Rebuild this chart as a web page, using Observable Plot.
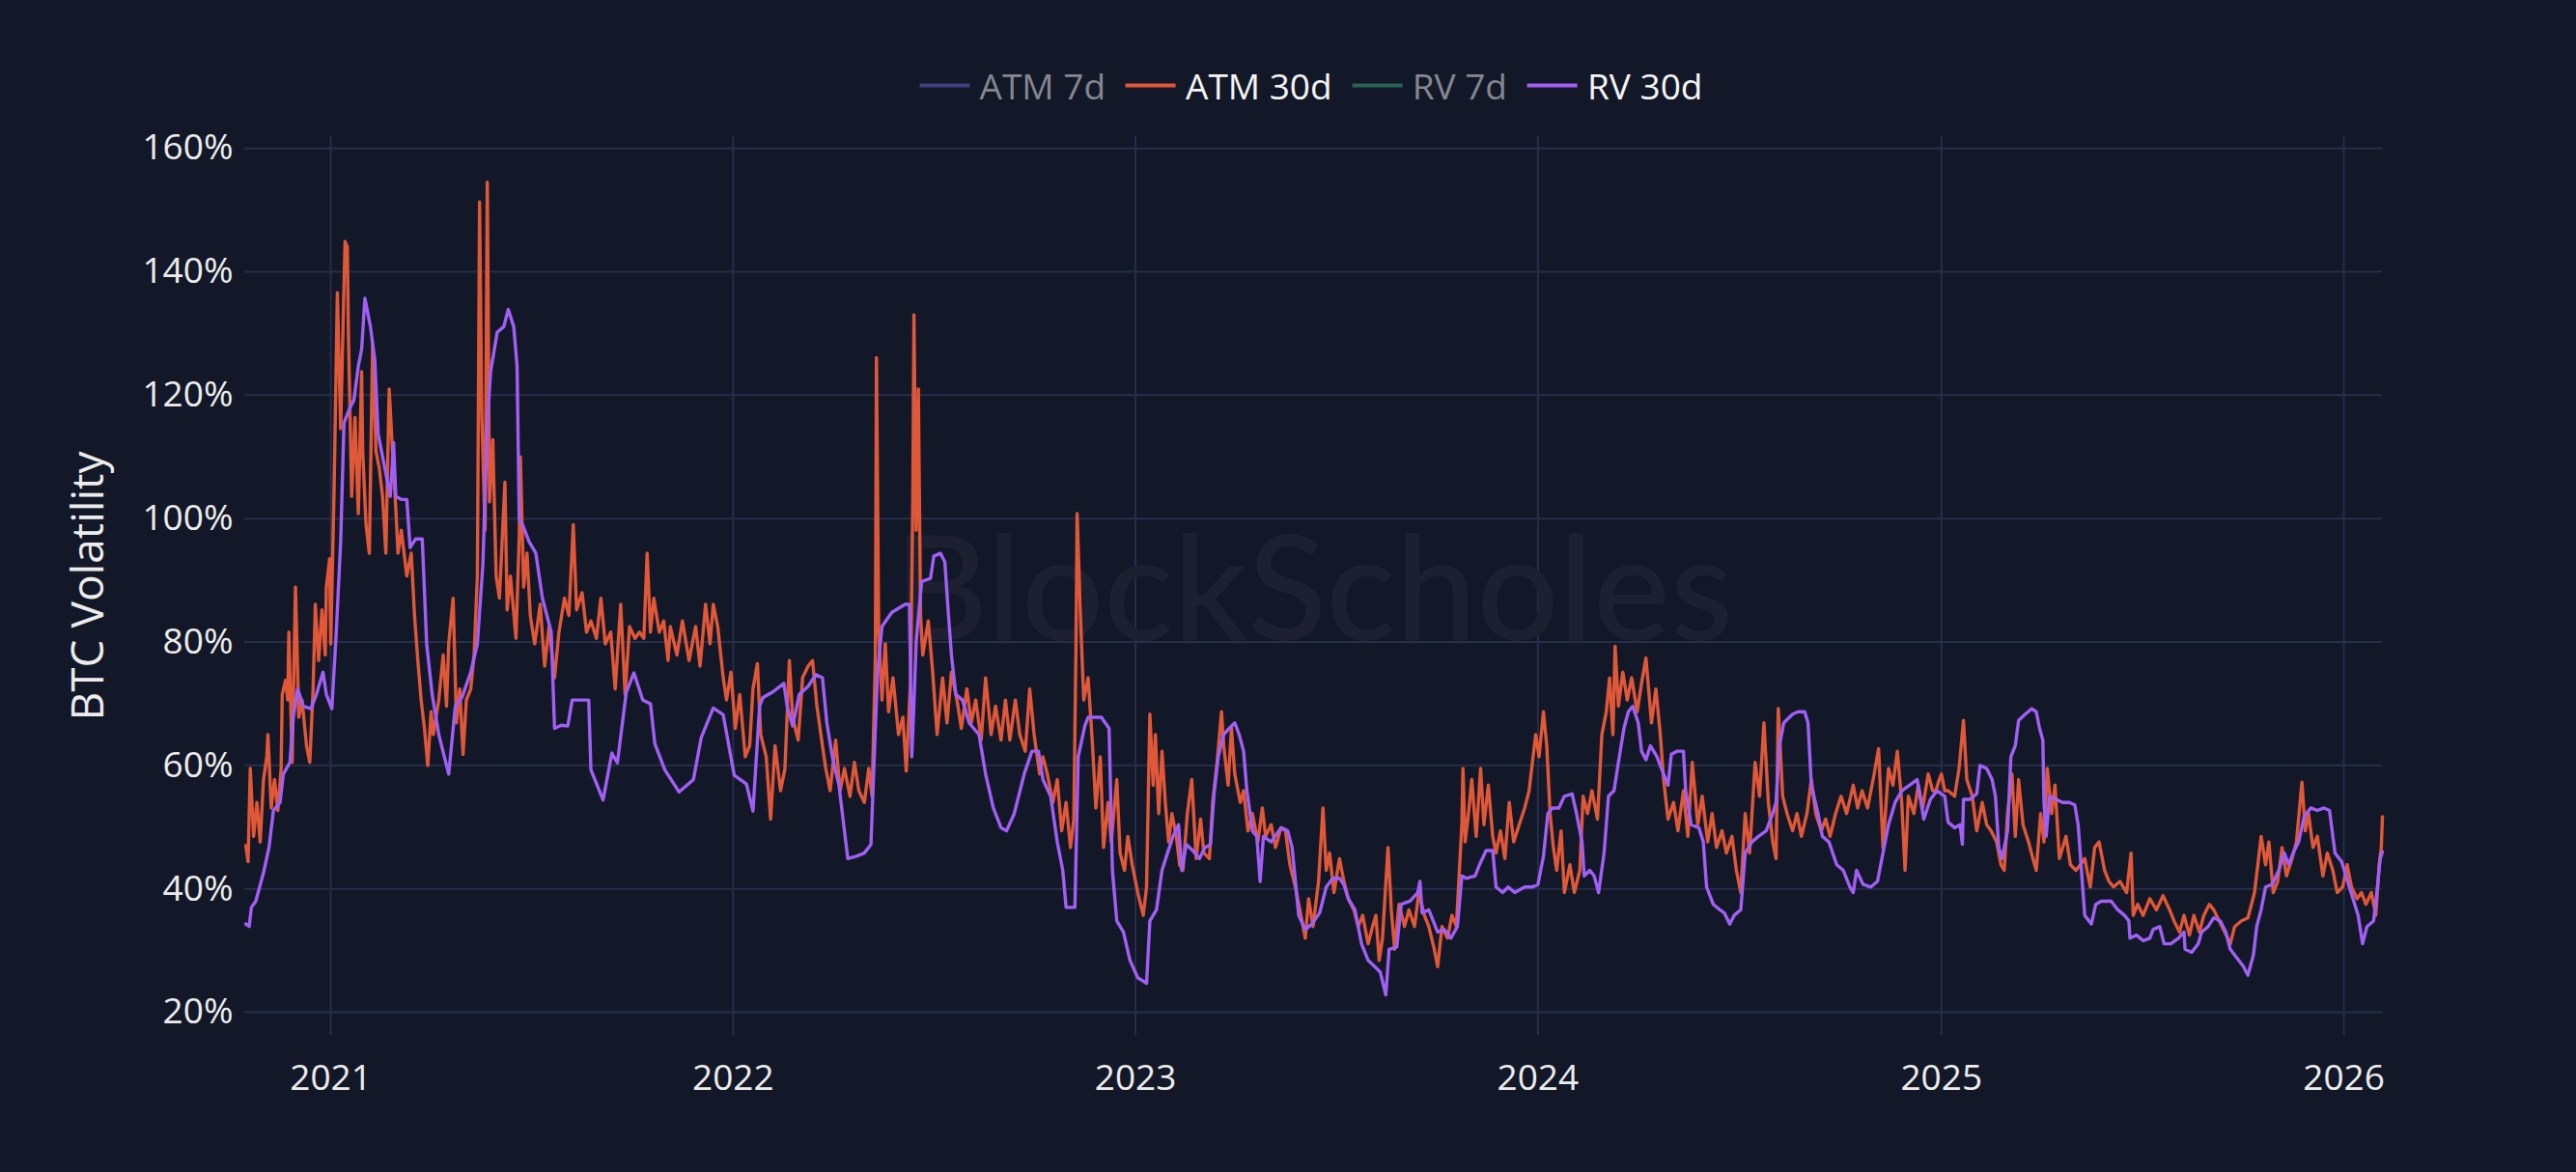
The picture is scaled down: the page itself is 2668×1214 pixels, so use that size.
<!DOCTYPE html>
<html>
<head>
<meta charset="utf-8">
<script src="https://cdn.jsdelivr.net/npm/d3@7"></script>
<script src="https://cdn.jsdelivr.net/npm/@observablehq/plot@0.6"></script>
<style>
  html, body { margin: 0; padding: 0; background: #131828; }
  #legend { position: relative; height: 110px; width: 2668px; }
  #legend .items { position: absolute; left: 1358px; top: 88px; transform: translate(-50%, -50%);
    display: flex; align-items: center; font-family: "Open Sans", sans-serif; font-size: 37px; white-space: nowrap; }
  #legend .item { display: flex; align-items: center; margin-right: 21px; }
  #legend .item:last-child { margin-right: 0; }
  #legend .swatch { width: 52px; height: 4px; margin-right: 10px; }
</style>
</head>
<body>
<div id="legend"><div class="items"></div></div>
<div id="chart"></div>
<script>
// ---- series definitions (legend) ----
const seriesNames   = ["ATM 7d", "ATM 30d", "RV 7d", "RV 30d"];
const seriesColors  = ["#3e4080", "#e05838", "#286452", "#a05ff5"];
const seriesVisible = [false, true, false, true];

// ---- axis ticks ----
const yearTicks = ["2021", "2022", "2023", "2024", "2025", "2026"];
const volTicks  = [20, 40, 60, 80, 100, 120, 140, 160];

// ---- ATM 30d implied volatility (%) ----
const atm30d = [
["2020-10-16",47.0],["2020-10-18",44.4],["2020-10-20",59.5],["2020-10-23",48.5],["2020-10-26",54.0],["2020-10-29",47.6],
["2020-11-01",57.7],["2020-11-04",61.4],["2020-11-05",65.0],["2020-11-08",53.1],["2020-11-11",57.7],["2020-11-14",52.7],
["2020-11-17",59.5],["2020-11-18",71.5],["2020-11-21",73.8],["2020-11-23",70.6],["2020-11-24",81.6],["2020-11-27",60.5],
["2020-11-30",88.9],["2020-12-03",67.8],["2020-12-06",70.6],["2020-12-10",63.2],["2020-12-13",60.5],["2020-12-16",72.4],
["2020-12-18",86.1],["2020-12-21",77.0],["2020-12-24",85.2],["2020-12-27",77.9],["2020-12-28",88.9],["2020-12-31",93.5],
["2021-01-01",79.7],["2021-01-04",104.5],["2021-01-07",136.6],["2021-01-10",114.6],["2021-01-13",137.5],["2021-01-14",144.9],
["2021-01-16",144.0],["2021-01-17",130.2],["2021-01-20",103.6],["2021-01-23",116.4],["2021-01-26",100.8],["2021-01-29",123.8],
["2021-01-30",110.9],["2021-02-02",99.0],["2021-02-05",94.4],["2021-02-08",128.3],["2021-02-11",110.9],["2021-02-14",108.2],
["2021-02-17",103.6],["2021-02-20",94.4],["2021-02-23",121.0],["2021-02-26",110.9],["2021-03-01",101.7],["2021-03-03",94.4],
["2021-03-06",98.1],["2021-03-11",90.7],["2021-03-15",94.4],["2021-03-18",84.3],["2021-03-21",77.0],["2021-03-24",70.6],
["2021-03-27",66.0],["2021-03-30",60.0],["2021-04-02",68.7],["2021-04-04",65.0],["2021-04-09",70.6],["2021-04-13",77.9],
["2021-04-16",69.6],["2021-04-18",79.7],["2021-04-22",87.1],["2021-04-25",66.9],["2021-04-28",72.4],["2021-05-01",61.8],
["2021-05-04",70.6],["2021-05-08",72.4],["2021-05-11",77.9],["2021-05-14",90.7],["2021-05-16",151.3],["2021-05-18",116.4],
["2021-05-21",98.1],["2021-05-23",154.5],["2021-05-25",102.7],["2021-05-28",112.8],["2021-05-31",90.7],["2021-06-03",87.1],
["2021-06-08",105.9],["2021-06-10",85.2],["2021-06-13",90.7],["2021-06-18",80.6],["2021-06-21",97.2],["2021-06-22",110.0],
["2021-06-25",88.9],["2021-06-28",94.4],["2021-07-01",84.3],["2021-07-05",79.7],["2021-07-10",86.1],["2021-07-14",76.1],
["2021-07-18",82.5],["2021-07-23",74.2],["2021-07-27",81.6],["2021-08-01",87.1],["2021-08-05",84.3],["2021-08-09",99.0],
["2021-08-12",85.2],["2021-08-17",88.0],["2021-08-21",81.6],["2021-08-25",83.4],["2021-08-30",80.6],["2021-09-03",87.1],
["2021-09-07",79.7],["2021-09-12",81.6],["2021-09-16",72.4],["2021-09-21",86.1],["2021-09-25",71.5],["2021-09-29",82.5],
["2021-10-04",80.6],["2021-10-08",81.6],["2021-10-12",80.6],["2021-10-15",94.4],["2021-10-18",81.6],["2021-10-21",87.1],
["2021-10-26",81.6],["2021-10-30",83.4],["2021-11-03",77.0],["2021-11-05",82.5],["2021-11-11",77.9],["2021-11-16",83.4],
["2021-11-22",77.0],["2021-11-28",82.5],["2021-12-02",76.1],["2021-12-07",86.1],["2021-12-11",79.7],["2021-12-14",86.1],
["2021-12-18",82.5],["2021-12-23",74.2],["2021-12-26",70.6],["2021-12-30",75.1],["2022-01-03",66.0],["2022-01-07",71.5],
["2022-01-12",61.4],["2022-01-16",63.2],["2022-01-19",72.4],["2022-01-23",76.5],["2022-01-26",65.0],["2022-01-31",61.4],
["2022-02-04",51.3],["2022-02-08",63.2],["2022-02-13",55.9],["2022-02-17",59.5],["2022-02-21",77.0],["2022-02-24",67.8],
["2022-03-01",64.1],["2022-03-05",74.2],["2022-03-10",76.1],["2022-03-14",77.0],["2022-03-18",69.6],["2022-03-23",63.2],
["2022-03-26",59.5],["2022-03-30",55.9],["2022-04-04",64.1],["2022-04-08",55.9],["2022-04-12",59.5],["2022-04-17",55.0],
["2022-04-21",60.5],["2022-04-25",55.9],["2022-04-30",54.0],["2022-05-04",59.5],["2022-05-07",55.0],["2022-05-10",77.9],
["2022-05-11",126.1],["2022-05-13",81.6],["2022-05-16",70.6],["2022-05-19",79.7],["2022-05-22",68.7],["2022-05-26",74.2],
["2022-05-31",65.0],["2022-06-04",67.8],["2022-06-07",59.1],["2022-06-11",74.2],["2022-06-13",103.6],["2022-06-14",133.0],
["2022-06-16",98.1],["2022-06-18",121.0],["2022-06-20",84.3],["2022-06-22",77.9],["2022-06-27",83.4],["2022-07-01",75.1],
["2022-07-05",65.0],["2022-07-10",74.2],["2022-07-14",66.9],["2022-07-18",75.1],["2022-07-23",70.6],["2022-07-27",66.0],
["2022-08-01",72.4],["2022-08-05",66.9],["2022-08-09",70.6],["2022-08-14",64.1],["2022-08-18",74.2],["2022-08-23",65.0],
["2022-08-27",69.6],["2022-09-01",64.1],["2022-09-05",70.6],["2022-09-09",64.1],["2022-09-14",70.6],["2022-09-18",65.0],
["2022-09-23",62.3],["2022-09-27",72.4],["2022-10-01",65.0],["2022-10-06",58.6],["2022-10-09",61.4],["2022-10-13",58.6],
["2022-10-18",54.0],["2022-10-22",57.7],["2022-10-26",49.4],["2022-10-30",54.0],["2022-11-03",46.7],["2022-11-06",51.3],
["2022-11-08",79.7],["2022-11-09",100.8],["2022-11-12",84.3],["2022-11-15",70.6],["2022-11-19",74.2],["2022-11-23",63.2],
["2022-11-26",53.1],["2022-11-30",61.4],["2022-12-03",46.7],["2022-12-07",54.0],["2022-12-10",47.6],["2022-12-15",57.7],
["2022-12-18",45.8],["2022-12-22",43.0],["2022-12-25",48.5],["2022-12-29",43.9],["2023-01-03",39.4],["2023-01-08",35.7],
["2023-01-11",40.3],["2023-01-14",68.3],["2023-01-17",56.8],["2023-01-19",65.0],["2023-01-22",52.2],["2023-01-25",62.3],
["2023-01-28",54.0],["2023-01-31",47.6],["2023-02-03",52.2],["2023-02-07",48.5],["2023-02-10",43.9],["2023-02-13",43.0],
["2023-02-17",52.2],["2023-02-21",57.7],["2023-02-25",44.9],["2023-03-01",51.3],["2023-03-04",45.8],["2023-03-09",44.9],
["2023-03-12",54.0],["2023-03-16",60.5],["2023-03-20",68.7],["2023-03-22",63.2],["2023-03-26",56.8],["2023-03-29",66.0],
["2023-04-01",58.6],["2023-04-06",54.0],["2023-04-09",55.9],["2023-04-13",49.4],["2023-04-17",52.2],["2023-04-22",47.6],
["2023-04-26",53.1],["2023-04-29",48.5],["2023-05-04",50.4],["2023-05-08",46.7],["2023-05-13",49.9],["2023-05-17",49.4],
["2023-05-21",43.9],["2023-05-26",40.3],["2023-05-30",36.6],["2023-06-04",32.0],["2023-06-07",38.4],["2023-06-11",33.9],
["2023-06-16",41.2],["2023-06-20",53.1],["2023-06-23",43.0],["2023-06-26",45.8],["2023-06-30",39.4],["2023-07-05",44.9],
["2023-07-09",41.2],["2023-07-13",38.4],["2023-07-18",36.6],["2023-07-22",33.9],["2023-07-26",35.7],["2023-07-31",31.1],
["2023-08-04",33.9],["2023-08-07",35.7],["2023-08-10",28.4],["2023-08-13",32.0],["2023-08-18",46.7],["2023-08-21",36.6],
["2023-08-24",30.2],["2023-08-28",37.5],["2023-09-02",33.9],["2023-09-06",36.6],["2023-09-11",33.9],["2023-09-15",39.4],
["2023-09-20",35.7],["2023-09-24",33.9],["2023-09-29",30.2],["2023-10-02",27.4],["2023-10-06",33.9],["2023-10-11",32.0],
["2023-10-15",35.7],["2023-10-19",33.9],["2023-10-24",50.4],["2023-10-25",59.5],["2023-10-27",47.6],["2023-10-30",52.2],
["2023-11-02",57.7],["2023-11-06",48.5],["2023-11-10",59.5],["2023-11-13",50.4],["2023-11-17",56.8],["2023-11-21",48.5],
["2023-11-24",45.8],["2023-11-28",49.4],["2023-12-02",44.9],["2023-12-06",54.0],["2023-12-10",47.6],["2023-12-15",50.4],
["2023-12-20",53.1],["2023-12-24",55.9],["2023-12-27",60.5],["2023-12-30",65.0],["2024-01-02",61.4],["2024-01-06",68.7],
["2024-01-09",63.2],["2024-01-12",52.2],["2024-01-15",46.7],["2024-01-18",43.0],["2024-01-22",49.4],["2024-01-25",39.4],
["2024-01-30",43.9],["2024-02-03",39.4],["2024-02-08",43.0],["2024-02-11",55.0],["2024-02-15",52.2],["2024-02-19",55.9],
["2024-02-24",51.3],["2024-02-28",65.0],["2024-03-03",68.7],["2024-03-06",74.2],["2024-03-09",65.0],["2024-03-11",79.3],
["2024-03-14",69.6],["2024-03-18",75.1],["2024-03-22",70.6],["2024-03-26",74.2],["2024-03-31",68.7],["2024-04-04",73.3],
["2024-04-08",77.4],["2024-04-13",66.9],["2024-04-17",72.4],["2024-04-21",65.0],["2024-04-24",57.7],["2024-04-28",51.3],
["2024-05-03",54.0],["2024-05-07",49.4],["2024-05-12",55.9],["2024-05-16",48.5],["2024-05-20",60.5],["2024-05-25",50.4],
["2024-05-29",55.0],["2024-06-03",47.6],["2024-06-07",52.2],["2024-06-11",46.7],["2024-06-16",49.4],["2024-06-20",45.8],
["2024-06-25",48.5],["2024-06-29",43.0],["2024-07-03",39.4],["2024-07-07",52.2],["2024-07-11",45.8],["2024-07-16",60.5],
["2024-07-20",55.0],["2024-07-24",66.9],["2024-07-28",54.0],["2024-08-01",47.6],["2024-08-04",44.9],["2024-08-06",69.2],
["2024-08-10",55.0],["2024-08-14",52.2],["2024-08-19",49.4],["2024-08-23",52.2],["2024-08-27",48.5],["2024-09-01",52.2],
["2024-09-05",57.7],["2024-09-09",52.2],["2024-09-14",49.4],["2024-09-18",51.3],["2024-09-22",48.5],["2024-09-27",52.2],
["2024-10-02",55.0],["2024-10-07",52.2],["2024-10-13",56.8],["2024-10-17",53.1],["2024-10-21",55.9],["2024-10-26",53.1],
["2024-11-01",58.6],["2024-11-05",62.7],["2024-11-09",46.7],["2024-11-14",59.5],["2024-11-18",56.8],["2024-11-22",62.3],
["2024-11-26",54.0],["2024-11-29",43.0],["2024-12-02",55.0],["2024-12-07",52.2],["2024-12-11",56.8],["2024-12-15",53.1],
["2024-12-20",58.6],["2024-12-24",55.9],["2024-12-27",55.9],["2024-12-30",57.7],["2025-01-01",58.6],["2025-01-04",55.9],
["2025-01-07",55.9],["2025-01-13",55.0],["2025-01-17",59.5],["2025-01-21",67.3],["2025-01-24",57.7],["2025-01-29",55.0],
["2025-02-02",49.4],["2025-02-07",54.0],["2025-02-11",50.4],["2025-02-15",49.4],["2025-02-20",47.6],["2025-02-24",43.9],
["2025-02-27",43.0],["2025-03-02",52.2],["2025-03-06",58.6],["2025-03-09",48.5],["2025-03-12",57.7],["2025-03-16",50.4],
["2025-03-21",47.6],["2025-03-25",44.9],["2025-03-28",43.0],["2025-04-01",52.2],["2025-04-04",47.6],["2025-04-07",59.5],
["2025-04-11",52.2],["2025-04-14",56.8],["2025-04-18",44.9],["2025-04-24",48.5],["2025-04-28",43.9],["2025-05-03",43.0],
["2025-05-07",43.9],["2025-05-11",44.9],["2025-05-16",40.3],["2025-05-20",46.7],["2025-05-24",47.6],["2025-05-29",43.0],
["2025-06-02",41.2],["2025-06-06",40.3],["2025-06-12",41.2],["2025-06-18",39.4],["2025-06-22",45.8],["2025-06-24",35.7],
["2025-06-28",37.5],["2025-07-03",35.7],["2025-07-09",38.4],["2025-07-15",36.6],["2025-07-21",38.9],["2025-07-27",36.6],
["2025-07-31",34.8],["2025-08-05",33.0],["2025-08-09",35.7],["2025-08-14",32.5],["2025-08-18",35.7],["2025-08-23",33.0],
["2025-08-27",35.7],["2025-09-01",37.5],["2025-09-05",36.6],["2025-09-10",34.8],["2025-09-15",33.0],["2025-09-20",31.1],
["2025-09-24",33.9],["2025-09-30",34.8],["2025-10-06",35.3],["2025-10-12",39.4],["2025-10-15",43.9],["2025-10-18",48.5],
["2025-10-22",43.9],["2025-10-25",47.6],["2025-10-29",39.4],["2025-11-02",41.2],["2025-11-06",46.7],["2025-11-10",42.1],
["2025-11-15",44.9],["2025-11-19",47.6],["2025-11-24",57.3],["2025-11-27",49.4],["2025-11-30",52.2],["2025-12-04",46.7],
["2025-12-08",48.5],["2025-12-13",42.1],["2025-12-17",45.8],["2025-12-22",43.0],["2025-12-26",39.4],["2025-12-31",40.3],
["2026-01-04",43.9],["2026-01-08",40.3],["2026-01-13",38.4],["2026-01-17",39.4],["2026-01-21",37.5],["2026-01-26",39.4],
["2026-01-30",35.7],["2026-02-02",43.9],["2026-02-04",46.7],["2026-02-05",51.7]
];

// ---- RV 30d realised volatility (%) ----
const rv30d = [
["2020-10-16",34.3],["2020-10-19",33.9],["2020-10-21",37.0],["2020-10-25",38.0],["2020-11-01",42.6],["2020-11-06",46.7],
["2020-11-10",52.7],["2020-11-16",54.0],["2020-11-19",58.6],["2020-11-25",60.5],["2020-11-28",67.8],["2020-12-02",72.4],
["2020-12-07",69.6],["2020-12-14",69.2],["2020-12-19",71.5],["2020-12-25",75.1],["2020-12-28",71.5],["2021-01-02",69.2],
["2021-01-06",81.6],["2021-01-10",96.2],["2021-01-13",115.5],["2021-01-18",117.8],["2021-01-22",119.2],["2021-01-26",124.7],
["2021-01-29",127.4],["2021-02-01",135.7],["2021-02-06",131.1],["2021-02-10",125.6],["2021-02-13",113.7],["2021-02-19",108.2],
["2021-02-24",103.6],["2021-02-27",112.3],["2021-03-01",103.6],["2021-03-06",103.1],["2021-03-11",103.1],["2021-03-14",95.3],
["2021-03-19",96.7],["2021-03-25",96.7],["2021-03-29",79.7],["2021-04-03",71.5],["2021-04-09",65.0],["2021-04-18",58.6],
["2021-04-24",69.6],["2021-04-30",71.0],["2021-05-08",75.1],["2021-05-14",79.7],["2021-05-19",92.6],["2021-05-23",115.5],
["2021-05-26",123.8],["2021-06-01",130.2],["2021-06-07",131.1],["2021-06-11",133.9],["2021-06-16",131.1],["2021-06-19",124.7],
["2021-06-21",99.9],["2021-06-24",99.0],["2021-06-30",96.2],["2021-07-06",94.4],["2021-07-12",87.1],["2021-07-20",81.6],
["2021-07-23",66.0],["2021-07-29",66.5],["2021-08-04",66.4],["2021-08-08",70.6],["2021-08-23",70.6],["2021-08-25",59.3],
["2021-09-05",54.4],["2021-09-13",62.0],["2021-09-18",60.4],["2021-09-26",71.8],["2021-10-03",75.0],["2021-10-11",70.6],
["2021-10-18",70.0],["2021-10-22",63.5],["2021-10-31",59.3],["2021-11-13",55.7],["2021-11-26",57.7],["2021-12-03",64.5],
["2021-12-14",69.3],["2021-12-23",68.2],["2022-01-02",58.4],["2022-01-13",57.0],["2022-01-19",52.6],["2022-01-25",69.6],
["2022-01-28",71.0],["2022-02-06",71.9],["2022-02-16",73.3],["2022-02-19",69.6],["2022-02-24",66.4],["2022-03-02",71.5],
["2022-03-10",72.8],["2022-03-17",74.7],["2022-03-23",74.2],["2022-03-27",66.9],["2022-04-01",61.4],["2022-04-07",56.8],
["2022-04-11",50.8],["2022-04-15",44.9],["2022-04-23",45.3],["2022-04-30",45.8],["2022-05-06",47.2],["2022-05-09",61.4],
["2022-05-12",75.1],["2022-05-16",82.5],["2022-05-25",84.8],["2022-06-06",86.1],["2022-06-10",86.1],["2022-06-12",61.4],
["2022-06-14",70.0],["2022-06-16",80.0],["2022-06-21",89.8],["2022-06-29",90.3],["2022-07-02",93.9],["2022-07-08",94.4],
["2022-07-12",93.0],["2022-07-15",85.2],["2022-07-18",77.9],["2022-07-22",71.5],["2022-07-28",70.6],["2022-08-03",66.9],
["2022-08-12",65.0],["2022-08-18",58.6],["2022-08-25",53.1],["2022-09-01",49.9],["2022-09-06",49.4],["2022-09-13",52.2],
["2022-09-22",58.6],["2022-09-29",62.3],["2022-10-05",62.3],["2022-10-09",57.7],["2022-10-16",55.0],["2022-10-22",47.6],
["2022-10-27",43.0],["2022-10-30",37.0],["2022-11-07",37.0],["2022-11-10",61.4],["2022-11-16",66.4],["2022-11-19",67.8],
["2022-12-01",67.8],["2022-12-08",66.0],["2022-12-11",43.0],["2022-12-15",34.8],["2022-12-21",33.0],["2022-12-27",28.4],
["2023-01-03",25.6],["2023-01-11",24.7],["2023-01-14",34.8],["2023-01-20",36.6],["2023-01-25",43.0],["2023-01-30",45.8],
["2023-02-04",48.5],["2023-02-09",50.4],["2023-02-12",43.0],["2023-02-16",47.2],["2023-02-22",46.2],["2023-02-28",44.9],
["2023-03-05",46.7],["2023-03-10",47.2],["2023-03-13",55.0],["2023-03-17",61.4],["2023-03-22",65.0],["2023-03-27",66.0],
["2023-04-01",66.9],["2023-04-05",65.0],["2023-04-09",62.3],["2023-04-12",55.9],["2023-04-17",49.4],["2023-04-21",48.5],
["2023-04-24",41.2],["2023-04-27",48.5],["2023-05-04",47.6],["2023-05-13",49.9],["2023-05-19",49.4],["2023-05-23",46.7],
["2023-05-26",41.2],["2023-05-29",35.7],["2023-06-04",33.4],["2023-06-10",34.3],["2023-06-17",36.1],["2023-06-23",40.3],
["2023-06-29",41.7],["2023-07-05",41.7],["2023-07-09",40.7],["2023-07-13",38.4],["2023-07-19",36.6],["2023-07-25",31.1],
["2023-07-31",28.4],["2023-08-06",27.4],["2023-08-11",26.5],["2023-08-16",22.8],["2023-08-19",30.2],["2023-08-26",30.6],
["2023-08-30",37.5],["2023-09-07",38.0],["2023-09-14",39.4],["2023-09-16",41.2],["2023-09-18",36.1],["2023-09-24",36.6],
["2023-09-28",34.8],["2023-10-02",33.0],["2023-10-08",33.4],["2023-10-14",32.0],["2023-10-20",33.9],["2023-10-24",42.1],
["2023-10-28",41.7],["2023-11-05",42.1],["2023-11-09",43.9],["2023-11-15",46.2],["2023-11-21",46.2],["2023-11-24",40.3],
["2023-11-30",39.4],["2023-12-05",40.3],["2023-12-11",39.4],["2023-12-20",40.3],["2023-12-27",40.3],["2024-01-01",40.7],
["2024-01-06",45.3],["2024-01-10",52.2],["2024-01-14",53.1],["2024-01-20",53.1],["2024-01-25",55.0],["2024-02-01",55.4],
["2024-02-05",52.2],["2024-02-10",47.6],["2024-02-12",42.1],["2024-02-17",43.0],["2024-02-21",42.1],["2024-02-25",39.4],
["2024-03-01",45.8],["2024-03-05",55.0],["2024-03-10",55.9],["2024-03-14",60.5],["2024-03-19",66.0],["2024-03-23",68.7],
["2024-03-27",69.6],["2024-04-01",66.9],["2024-04-04",62.3],["2024-04-08",60.9],["2024-04-12",63.2],["2024-04-18",61.4],
["2024-04-24",58.6],["2024-04-28",56.8],["2024-05-01",61.8],["2024-05-06",62.3],["2024-05-12",62.3],["2024-05-14",55.9],
["2024-05-19",50.4],["2024-05-26",49.9],["2024-05-30",47.6],["2024-06-02",40.3],["2024-06-08",37.5],["2024-06-14",36.6],
["2024-06-18",36.1],["2024-06-23",34.3],["2024-06-27",35.7],["2024-07-03",36.6],["2024-07-07",45.8],["2024-07-13",47.6],
["2024-07-19",48.5],["2024-07-26",49.4],["2024-08-01",52.2],["2024-08-04",54.0],["2024-08-07",63.2],["2024-08-11",66.9],
["2024-08-19",68.3],["2024-08-24",68.7],["2024-08-30",68.7],["2024-09-02",66.9],["2024-09-05",56.8],["2024-09-11",52.2],
["2024-09-15",48.5],["2024-09-21",47.6],["2024-09-28",43.9],["2024-10-04",43.0],["2024-10-10",40.3],["2024-10-13",39.4],
["2024-10-16",43.0],["2024-10-22",40.7],["2024-10-29",40.3],["2024-11-04",41.2],["2024-11-08",44.9],["2024-11-14",50.4],
["2024-11-20",54.0],["2024-11-26",55.9],["2024-12-03",56.8],["2024-12-10",57.7],["2024-12-16",51.3],["2024-12-22",54.5],
["2024-12-28",55.9],["2025-01-04",55.0],["2025-01-07",50.8],["2025-01-13",49.9],["2025-01-18",50.4],["2025-01-20",47.2],
["2025-01-21",54.5],["2025-01-27",54.5],["2025-02-02",55.4],["2025-02-05",60.0],["2025-02-11",59.5],["2025-02-16",57.7],
["2025-02-19",55.0],["2025-02-22",46.7],["2025-02-25",44.9],["2025-03-02",49.4],["2025-03-05",61.4],["2025-03-09",63.2],
["2025-03-12",67.3],["2025-03-18",68.3],["2025-03-24",69.2],["2025-03-28",68.7],["2025-03-31",66.0],["2025-04-03",64.1],
["2025-04-04",54.0],["2025-04-06",48.5],["2025-04-09",55.0],["2025-04-15",54.5],["2025-04-21",54.0],["2025-04-27",54.0],
["2025-05-02",53.6],["2025-05-05",50.4],["2025-05-08",43.0],["2025-05-11",35.7],["2025-05-17",34.3],["2025-05-21",37.5],
["2025-05-26",38.0],["2025-06-04",38.0],["2025-06-10",36.6],["2025-06-16",35.7],["2025-06-20",34.8],["2025-06-21",32.0],
["2025-06-27",32.5],["2025-07-03",31.6],["2025-07-09",32.0],["2025-07-12",33.4],["2025-07-18",33.9],["2025-07-22",31.1],
["2025-07-28",31.1],["2025-08-04",32.0],["2025-08-09",33.0],["2025-08-10",30.2],["2025-08-16",29.7],["2025-08-22",31.1],
["2025-08-25",33.0],["2025-08-31",33.9],["2025-09-05",35.3],["2025-09-11",34.8],["2025-09-16",33.0],["2025-09-20",30.2],
["2025-09-26",28.8],["2025-10-02",27.4],["2025-10-06",26.0],["2025-10-11",29.3],["2025-10-14",33.9],["2025-10-18",36.6],
["2025-10-22",40.3],["2025-10-28",40.7],["2025-11-03",43.0],["2025-11-08",45.8],["2025-11-12",43.9],["2025-11-16",45.8],
["2025-11-21",47.6],["2025-11-26",51.7],["2025-12-02",53.1],["2025-12-08",52.7],["2025-12-14",53.1],["2025-12-19",52.7],
["2025-12-24",45.8],["2025-12-30",44.4],["2026-01-06",40.3],["2026-01-14",35.7],["2026-01-18",31.1],["2026-01-22",33.9],
["2026-01-28",34.8],["2026-01-31",39.4],["2026-02-03",44.9],["2026-02-05",46.0]
];

const watermark = "BlockScholes";
const yTitle = "BTC Volatility";

// ---- legend (HTML, above the SVG) ----
const items = document.querySelector("#legend .items");
seriesNames.forEach((name, i) => {
  const it = document.createElement("div");
  it.className = "item";
  const sw = document.createElement("div");
  sw.className = "swatch";
  sw.style.background = seriesColors[i];
  const tx = document.createElement("span");
  tx.textContent = name;
  tx.style.color = seriesVisible[i] ? "#f4f4f4" : "#84878f";
  it.appendChild(sw); it.appendChild(tx);
  items.appendChild(it);
});

const parse = d3.utcParse("%Y-%m-%d");
const toRows = (arr) => arr.map(([d, v]) => ({date: parse(d), value: v}));
const atmRows = toRows(atm30d);
const rvRows = toRows(rv30d);
const yearDates = yearTicks.map(y => parse(y + "-01-01"));
const xDomain = [parse("2020-10-15"), parse("2026-02-05")];

const gridColor = "#262e4a";
const textColor = "#ececec";

const chart = Plot.plot({
  width: 2668,
  height: 1104,
  marginTop: 31,
  marginBottom: 142,
  marginLeft: 253,
  marginRight: 201,
  style: {background: "transparent", color: textColor, fontFamily: "'Open Sans', sans-serif", fontSize: "37px"},
  x: {type: "utc", domain: xDomain},
  y: {domain: [16.25, 161.9]},
  marks: [
    Plot.gridY(volTicks, {stroke: gridColor, strokeOpacity: 1, strokeWidth: 2}),
    Plot.gridX(yearDates, {stroke: gridColor, strokeOpacity: 1, strokeWidth: 2}),
    Plot.text([watermark], {frameAnchor: "middle", dy: 8, fontSize: 150, fontFamily: "Lato", fill: "#1d2030", fontWeight: 500}),
    Plot.axisX(yearDates, {tickSize: 0, tickPadding: 30, tickFormat: "%Y", label: null, fill: textColor, fontSize: 37}),
    Plot.axisY(volTicks, {tickSize: 0, tickPadding: 12, tickFormat: d => d + "%", label: null, fill: textColor, fontSize: 37}),
    Plot.text([yTitle], {frameAnchor: "left", textAnchor: "middle", lineAnchor: "middle", dx: -161, rotate: -90, fontSize: 46, fill: textColor}),
    Plot.line(atmRows, {x: "date", y: "value", stroke: seriesColors[1], strokeWidth: 3.4}),
    Plot.line(rvRows, {x: "date", y: "value", stroke: seriesColors[3], strokeWidth: 3.4})
  ]
});
document.getElementById("chart").appendChild(chart);
</script>
</body>
</html>
